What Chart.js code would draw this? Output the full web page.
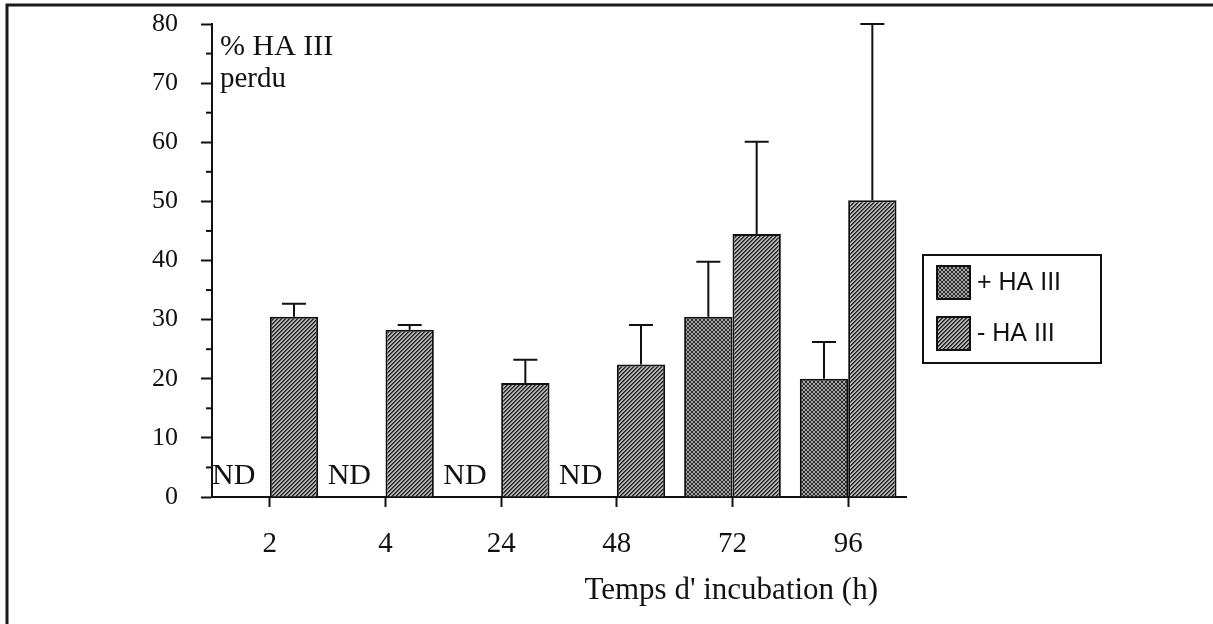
<!DOCTYPE html>
<html lang="fr">
<head>
    <meta charset="UTF-8">
    <title>% HA III perdu</title>
    <script src="https://cdn.jsdelivr.net/npm/chart.js"></script>
    <style>
        html, body { margin: 0; padding: 0; background: #fff; }
        .chart-container { position: relative; width: 1213px; height: 624px; }
    </style>
</head>
<body>
    <div class="chart-container">
        <canvas id="haChart"></canvas>
    </div>
    <script>
        // temps d'incubation (h)
        const categories = ['2', '4', '24', '48', '72', '96'];
        // % HA III perdu (null = ND)
        const plusHA = [null, null, null, null, 30.5, 20.0];
        const minusHA = [30.5, 28.3, 19.3, 22.4, 44.5, 50.2];
        // écarts (barres d'erreur vers le haut)
        const plusErr = [null, null, null, null, 9.3, 6.2];
        const minusErr = [2.2, 0.8, 3.9, 6.7, 15.6, 29.8];
        const seriesNames = ['+ HA III', '- HA III'];

        const serif = 'Liberation Serif, Times New Roman, serif';
        const sans = 'Liberation Sans, Arial, sans-serif';

        function makePattern(kind) {
            const c = document.createElement('canvas');
            c.width = 4; c.height = 4;
            const p = c.getContext('2d');
            p.fillStyle = kind === 'cross' ? '#a8a8a8' : '#b0b0b0';
            p.fillRect(0, 0, 4, 4);
            for (let x = 0; x < 4; x++) {
                for (let y = 0; y < 4; y++) {
                    if (kind === 'stripe') {
                        if ((x + y) % 4 === 3) { p.fillStyle = '#222'; p.fillRect(x, y, 1, 1); }
                        if ((x + y) % 4 === 0) { p.fillStyle = '#4a4a4a'; p.fillRect(x, y, 1, 1); }
                    } else {
                        const diagA = (x + y) % 4 === 3;
                        const diagB = ((x - y) + 4) % 4 === 0;
                        if (diagA || diagB) { p.fillStyle = '#2a2a2a'; p.fillRect(x, y, 1, 1); }
                    }
                }
            }
            return document.getElementById('haChart').getContext('2d').createPattern(c, 'repeat');
        }

        const plusFill = makePattern('cross');
        const minusFill = makePattern('stripe');

        const decorations = {
            id: 'decorations',
            beforeDraw(chart) {
                const ctx = chart.ctx;
                ctx.save();
                ctx.strokeStyle = '#1a1a1a';
                ctx.lineWidth = 3;
                ctx.beginPath();
                ctx.moveTo(7, chart.height);
                ctx.lineTo(7, 5);
                ctx.lineTo(chart.width, 5);
                ctx.stroke();
                ctx.restore();
            },
            afterDraw(chart) {
                const { ctx, chartArea, scales: { y } } = chart;
                ctx.save();
                ctx.strokeStyle = '#111';
                ctx.fillStyle = '#111';

                // petites graduations
                ctx.lineWidth = 2;
                for (let v = 5; v < 80; v += 10) {
                    const py = y.getPixelForValue(v);
                    ctx.beginPath();
                    ctx.moveTo(chartArea.left - 6, py);
                    ctx.lineTo(chartArea.left, py);
                    ctx.stroke();
                }

                // barres d'erreur
                const errs = [plusErr, minusErr];
                const vals = [plusHA, minusHA];
                chart.data.datasets.forEach((ds, di) => {
                    const meta = chart.getDatasetMeta(di);
                    meta.data.forEach((el, i) => {
                        if (vals[di][i] == null || errs[di][i] == null) return;
                        const top = y.getPixelForValue(vals[di][i] + errs[di][i]);
                        ctx.beginPath();
                        ctx.moveTo(el.x, el.y);
                        ctx.lineTo(el.x, top);
                        ctx.moveTo(el.x - 12, top);
                        ctx.lineTo(el.x + 12, top);
                        ctx.stroke();
                    });
                });

                // ND
                const minusMeta = chart.getDatasetMeta(1);
                ctx.font = '30px ' + serif;
                ctx.textAlign = 'center';
                ctx.textBaseline = 'alphabetic';
                plusHA.forEach((v, i) => {
                    if (v != null) return;
                    const el = minusMeta.data[i];
                    ctx.fillText('ND', el.x - el.width - 12, y.getPixelForValue(0) - 13);
                });

                // titre de l'axe y
                ctx.textAlign = 'left';
                ctx.font = '30px ' + serif;
                ctx.fillText('% HA III', chartArea.left + 8, chartArea.top + 31);
                ctx.font = '29px ' + serif;
                ctx.fillText('perdu', chartArea.left + 8, chartArea.top + 63);

                // titre de l'axe x
                ctx.font = '31px ' + serif;
                ctx.textAlign = 'right';
                ctx.textBaseline = 'middle';
                ctx.fillText("Temps d' incubation (h)", chartArea.right - 28, 591);

                // légende
                const lx = chartArea.right + 17, ly = 255;
                ctx.lineWidth = 2;
                ctx.strokeRect(lx, ly, 178, 108);
                const fills = [plusFill, minusFill];
                seriesNames.forEach((name, k) => {
                    const sy = ly + 11 + k * 51;
                    ctx.fillStyle = fills[k];
                    ctx.fillRect(lx + 14, sy, 33, 33);
                    ctx.strokeRect(lx + 14, sy, 33, 33);
                    ctx.fillStyle = '#111';
                    ctx.font = '25px ' + sans;
                    ctx.textAlign = 'left';
                    ctx.fillText(name, lx + 54, sy + 17);
                });
                ctx.restore();
            }
        };

        new Chart(document.getElementById('haChart'), {
            type: 'bar',
            data: {
                labels: categories,
                datasets: [
                    {
                        label: seriesNames[0],
                        data: plusHA,
                        backgroundColor: plusFill,
                        borderColor: '#111',
                        borderWidth: 2,
                        borderSkipped: 'bottom',
                        categoryPercentage: 0.836,
                        barPercentage: 1
                    },
                    {
                        label: seriesNames[1],
                        data: minusHA,
                        backgroundColor: minusFill,
                        borderColor: '#111',
                        borderWidth: 2,
                        borderSkipped: 'bottom',
                        categoryPercentage: 0.836,
                        barPercentage: 1
                    }
                ]
            },
            options: {
                responsive: true,
                maintainAspectRatio: false,
                animation: false,
                layout: { padding: { left: 0, right: 307, top: 24, bottom: 0 } },
                scales: {
                    x: {
                        grid: {
                            offset: false,
                            drawOnChartArea: false,
                            drawTicks: true,
                            tickLength: 10,
                            tickColor: '#111',
                            tickWidth: 2
                        },
                        border: { color: '#111', width: 2 },
                        ticks: {
                            color: '#111',
                            font: { family: serif, size: 29 },
                            padding: 20,
                            maxRotation: 0
                        },
                        afterFit(scale) { scale.height = 127; }
                    },
                    y: {
                        min: 0,
                        max: 80,
                        grid: {
                            drawOnChartArea: false,
                            drawTicks: true,
                            tickLength: 11,
                            tickColor: '#111',
                            tickWidth: 2
                        },
                        border: { color: '#111', width: 2 },
                        ticks: {
                            stepSize: 10,
                            color: '#111',
                            font: { family: serif, size: 26 },
                            padding: 23
                        },
                        afterFit(scale) {
                            scale.width = 212;
                            scale.paddingTop = 0;
                            scale.paddingBottom = 0;
                        }
                    }
                },
                plugins: {
                    legend: { display: false },
                    tooltip: { enabled: false }
                }
            },
            plugins: [decorations]
        });
    </script>
</body>
</html>
